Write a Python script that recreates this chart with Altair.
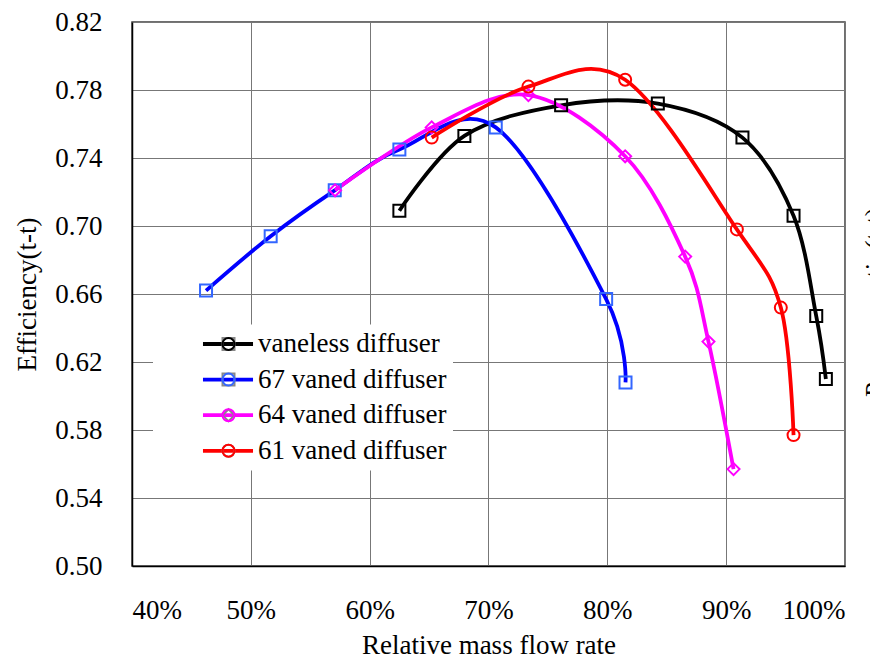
import altair as alt
import pandas as pd

series_names = ["vaneless diffuser", "67 vaned diffuser", "64 vaned diffuser", "61 vaned diffuser"]
line_colors = ["#000000", "#0000ff", "#ff00ff", "#ff0000"]
marker_colors = ["#000000", "#3366ff", "#ff00ff", "#ff0000"]
marker_shapes = ["square", "square", "diamond", "circle"]

vaneless_flow = [62.5, 67.97, 76.11, 84.25, 91.37, 95.67, 97.58, 98.39]
vaneless_eff = [0.709, 0.753, 0.771, 0.772, 0.752, 0.706, 0.647, 0.610]

v67_flow = [46.23, 51.67, 57.06, 62.5, 70.61, 79.9, 81.53]
v67_eff = [0.662, 0.694, 0.721, 0.745, 0.758, 0.657, 0.608]

v64_flow = [57.09, 65.22, 73.36, 81.5, 86.55, 88.51, 90.62]
v64_eff = [0.721, 0.758, 0.777, 0.741, 0.682, 0.632, 0.557]

v61_flow = [65.22, 73.36, 81.5, 90.9, 94.6, 95.67]
v61_eff = [0.752, 0.782, 0.786, 0.698, 0.652, 0.577]

x_ticks = [0.4, 0.5, 0.6, 0.7, 0.8, 0.9, 1.0]
y_ticks = [0.50, 0.54, 0.58, 0.62, 0.66, 0.70, 0.74, 0.78, 0.82]

rows = []
for name, xs, ys in [
    (series_names[0], vaneless_flow, vaneless_eff),
    (series_names[1], v67_flow, v67_eff),
    (series_names[2], v64_flow, v64_eff),
    (series_names[3], v61_flow, v61_eff),
]:
    for xv, yv in zip(xs, ys):
        rows.append({"flow": xv / 100.0, "eff": yv, "series": name, "series_m": name})
df = pd.DataFrame(rows)

FONT = "'Times New Roman', 'Liberation Serif', 'DejaVu Serif', serif"
LX, LY, LPAD, LROW = 21, 302.5, 6, 7.6
pad_expr = "datum.label + '          '"

x_enc = alt.X(
    "flow:Q",
    scale=alt.Scale(domain=[0.4, 1.0], nice=False, zero=False),
    axis=alt.Axis(values=x_ticks, format=".0%", labelPadding=31, titleY=87,
                  titleBaseline="alphabetic", title="Relative mass flow rate"),
)
y_enc = alt.Y(
    "eff:Q",
    scale=alt.Scale(domain=[0.5, 0.82], nice=False, zero=False),
    axis=alt.Axis(values=y_ticks, format=".2f", labelPadding=30, titleX=-97,
                  titleY=272, titleAngle=270, titleBaseline="alphabetic",
                  titleAlign="center", title="Efficiency(t-t)"),
)

lines = alt.Chart(df).mark_line(interpolate="cardinal", strokeWidth=3.8).encode(
    x=x_enc,
    y=y_enc,
    order="flow:Q",
    color=alt.Color(
        "series:N",
        sort=series_names,
        scale=alt.Scale(domain=series_names, range=line_colors),
        legend=alt.Legend(
            orient="none", legendX=LX, legendY=LY, title=None,
            symbolType="M-4.17,0H4.17", symbolSize=144, symbolStrokeWidth=3.8,
            symbolOffset=55.5, labelOffset=16.5, labelFontSize=27, labelFont=FONT,
            labelColor="black", padding=LPAD, rowPadding=LROW, fillColor="white",
            zindex=1, labelExpr=pad_expr, labelLimit=500,
        ),
    ),
)

leg_b = alt.Legend(
    orient="none", legendX=LX, legendY=LY, title=None,
    symbolSize=144, symbolStrokeWidth=2, symbolOffset=56, labelOffset=16.5,
    labelFontSize=27, labelFont=FONT, labelOpacity=0, padding=LPAD,
    rowPadding=LROW, zindex=2, labelExpr=pad_expr, labelLimit=500,
)

points = alt.Chart(df).mark_point(filled=False, size=144, strokeWidth=2, opacity=1).encode(
    x="flow:Q",
    y="eff:Q",
    stroke=alt.Stroke("series_m:N", sort=series_names,
                      scale=alt.Scale(range=marker_colors), legend=leg_b),
    shape=alt.Shape("series_m:N", sort=series_names,
                    scale=alt.Scale(range=marker_shapes), legend=leg_b),
)

right_title = alt.Chart(pd.DataFrame({"label": ["Pressure ratio(t-t)"]})).mark_text(
    angle=270, align="left", baseline="alphabetic", fontSize=27, font=FONT, color="black"
).encode(text="label:N", x=alt.value(751.5), y=alt.value(375))

chart = alt.layer(lines, points, right_title).properties(
    width=713, height=544,
    padding={"left": 124, "top": 14, "right": 25, "bottom": 93},
    autosize=alt.AutoSizeParams(type="none"),
).configure(font=FONT).configure_view(
    stroke="#404040", strokeWidth=1.5
).configure_axis(
    labelFont=FONT, labelFontSize=27, labelColor="black",
    titleFont=FONT, titleFontSize=27, titleColor="black", titleFontWeight="normal",
    domainColor="black", domainWidth=1.5, ticks=False, tickSize=0,
    gridColor="#777777", gridWidth=1, gridOpacity=1,
)

chart.save("out.html", embed_options={"renderer": "svg", "actions": False})
